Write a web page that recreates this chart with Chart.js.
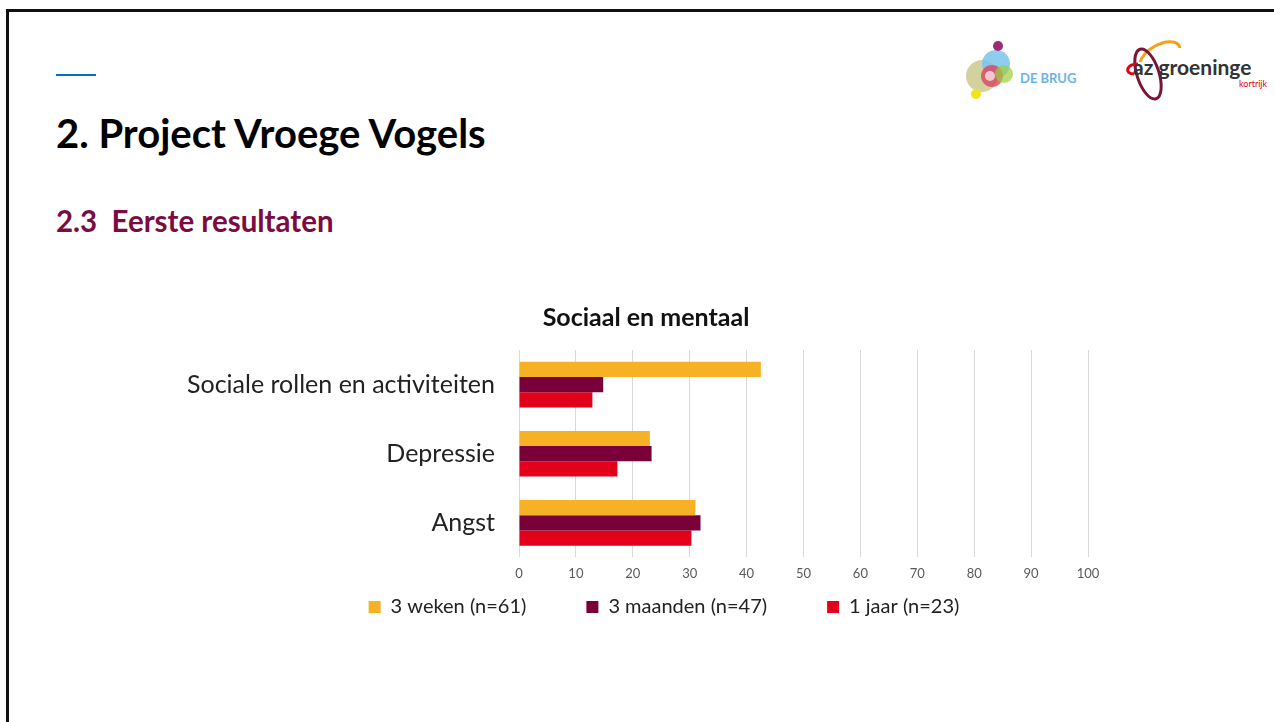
<!DOCTYPE html>
<html>
<head>
<meta charset="utf-8">
<script src="https://cdn.jsdelivr.net/npm/chart.js@4/dist/chart.umd.min.js"></script>
<style>
  html,body{margin:0;padding:0;background:#fff;overflow:hidden;width:1274px;height:722px;font-family:Lato,"Open Sans",sans-serif;}
  .frame{position:absolute;left:6px;top:9px;width:1400px;height:800px;border:3px solid #111;}
  .bar{position:absolute;left:56px;top:74px;width:40px;height:2px;background:#0070C0;}
  h1{position:absolute;left:56px;top:113px;margin:0;font-size:40px;line-height:1;font-weight:700;color:#000;}
  h2{position:absolute;left:56px;top:206px;margin:0;font-size:29.5px;line-height:1;font-weight:700;color:#7A0C42;}
  #wrap{position:absolute;left:170px;top:295px;width:960px;height:340px;}
  .logo{position:absolute;}
</style>
</head>
<body>
<div class="frame"></div>
<div class="bar"></div>
<h1>2. Project Vroege Vogels</h1>
<h2>2.3&nbsp; Eerste resultaten</h2>

<svg class="logo" style="left:960px;top:38px" width="130" height="66">
  <circle cx="22" cy="38" r="16" fill="#c9c58a" opacity="0.8"/>
  <circle cx="36" cy="26" r="14" fill="#7cc3ea" opacity="0.85"/>
  <circle cx="32" cy="38" r="11" fill="#d9455f" opacity="0.8"/>
  <circle cx="44" cy="36" r="9" fill="#9ccf3c" opacity="0.7"/>
  <circle cx="38" cy="8" r="5" fill="#9a2b7a"/>
  <circle cx="16" cy="56" r="5" fill="#f2e21a"/>
  <circle cx="30" cy="38" r="5" fill="#f2c6d0"/>
  <text x="60" y="45" font-family="Lato" font-weight="700" font-size="13" fill="#6cb4e4">DE BRUG</text>
</svg>
<svg class="logo" style="left:1118px;top:34px" width="156" height="70">
  <path d="M22 28 C 30 8, 60 2, 62 14" fill="none" stroke="#f3a21b" stroke-width="3"/>
  <ellipse cx="30" cy="40" rx="11" ry="26" transform="rotate(-18 30 40)" fill="none" stroke="#7a1438" stroke-width="3"/>
  <path d="M20 30 C 8 30, 6 40, 16 40" fill="none" stroke="#e2001a" stroke-width="3"/>
  <text x="15" y="41" font-family="Lato" font-weight="700" font-size="21" fill="#333">az groeninge</text>
  <text x="121" y="53" font-family="Lato" font-size="9" fill="#e2001a">kortrijk</text>
</svg>

<div id="wrap"><canvas id="chart"></canvas></div>

<script>
const categories=["Sociale rollen en activiteiten","Depressie","Angst"]
const seriesNames=["3 weken (n=61)","3 maanden (n=47)","1 jaar (n=23)"]
const weken3=[42.5,23.0,31.0]
const maanden3=[14.8,23.3,31.9]
const jaar1=[12.9,17.3,30.3]
const colors=["#F7B125","#7A003A","#E2001A"]

// keep the wide gap between legend items without a tall legend box,
// and nudge title + legend to where the slide has them
const LEGEND_H=44
const LEGEND_PAD=60
const legendPlace={
  id:"legendPlace",
  beforeLayout(chart){
    const lg=chart.legend
    if(lg && !lg._patched){
      const fit=lg.fit
      lg.fit=function(){fit.call(this);this.height=LEGEND_H}
      lg._patched=true
    }
  },
  afterLayout(chart){
    const lg=chart.legend
    lg.top=242
    lg.bottom=chart.height
    lg.left+=35
    lg.right+=35
    const t=chart.titleBlock
    t.left+=17
    t.right+=17
  }
}

new Chart(document.getElementById("chart"),{
  type:"bar",
  data:{
    labels:categories,
    datasets:[
      {label:seriesNames[0],data:weken3,backgroundColor:colors[0]},
      {label:seriesNames[1],data:maanden3,backgroundColor:colors[1]},
      {label:seriesNames[2],data:jaar1,backgroundColor:colors[2]}
    ]
  },
  plugins:[legendPlace],
  options:{
    indexAxis:"y",
    responsive:true,
    maintainAspectRatio:false,
    animation:false,
    layout:{padding:{left:0,right:42,top:0,bottom:0}},
    datasets:{bar:{categoryPercentage:0.66,barPercentage:1}},
    scales:{
      x:{
        min:0,max:100,
        ticks:{stepSize:10,color:"#595959",font:{family:"Lato",size:13},padding:9},
        grid:{color:"#D9D9D9",drawTicks:false},
        border:{display:false}
      },
      y:{
        ticks:{color:"#222",font:{family:"Lato",size:25},padding:16},
        grid:{display:false},
        border:{display:false},
        afterFit(scale){scale.width=349}
      }
    },
    plugins:{
      title:{display:true,text:"Sociaal en mentaal",color:"#111",font:{family:"Lato",size:25,weight:"bold"},padding:{top:8,bottom:17}},
      legend:{
        position:"bottom",
        labels:{boxWidth:12,boxHeight:12,color:"#222",font:{family:"Lato",size:20},padding:LEGEND_PAD}
      },
      tooltip:{enabled:false}
    }
  }
})
</script>
</body>
</html>
